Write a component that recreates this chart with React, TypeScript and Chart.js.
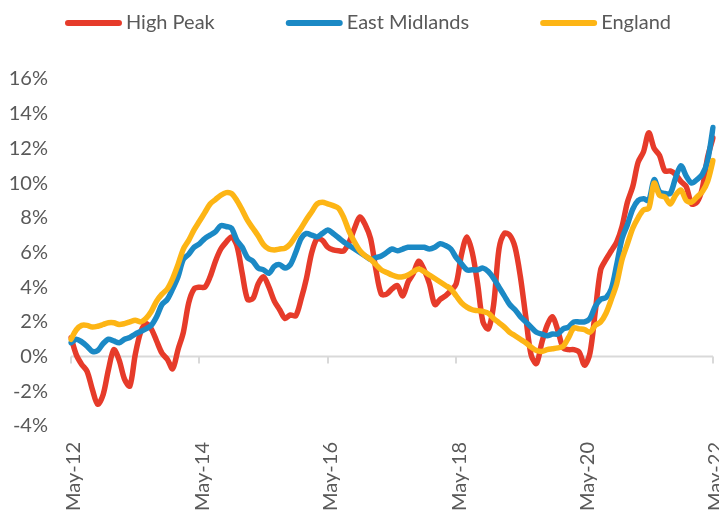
import { useEffect, useRef } from "react";
import { Chart, registerables } from "chart.js";

Chart.register(...registerables);

const MONTH_NAMES = ["Jan", "Feb", "Mar", "Apr", "May", "Jun", "Jul", "Aug", "Sep", "Oct", "Nov", "Dec"];

// Monthly categories May-12 .. May-22
const categories: string[] = [];
for (let k = 0; k <= 120; k++) {
  const m = (4 + k) % 12;
  const yr = 12 + Math.floor((4 + k) / 12);
  categories.push(`${MONTH_NAMES[m]}-${yr}`);
}

const tickLabels = ["May-12", "May-14", "May-16", "May-18", "May-20", "May-22"];

const seriesNames = ["High Peak", "East Midlands", "England"];

const highPeak = [
  1.1, 0.1, -0.45, -0.85, -1.9, -2.75, -2.2, -0.75, 0.4, -0.2, -1.3, -1.7, 0.1, 1.4, 1.9, 1.6, 0.9, 0.2, -0.15, -0.7, 0.4, 1.4, 3.1, 3.9,
  4.0, 4.0, 4.6, 5.5, 6.2, 6.6, 6.9, 6.4, 4.8, 3.3, 3.35, 4.2, 4.6, 4.0, 3.2, 2.7, 2.2, 2.4, 2.35, 3.3, 4.5, 6.0, 6.8, 6.7,
  6.3, 6.15, 6.1, 6.1, 6.6, 7.4, 8.05, 7.6, 6.8, 5.0, 3.6, 3.6, 3.9, 4.1, 3.5, 4.3, 4.8, 5.5, 5.0, 4.2, 3.0, 3.3, 3.5, 3.8,
  4.2, 5.9, 6.9, 6.0, 4.2, 2.0, 1.6, 3.0, 6.2, 7.1, 7.0, 6.3, 4.6, 2.3, 0.1, -0.4, 0.8, 1.8, 2.3, 1.5, 0.5, 0.4, 0.4, 0.25,
  -0.5, 0.2, 2.6, 5.0, 5.6, 6.1, 6.6, 7.5, 8.9, 9.8, 11.2, 11.8, 12.9, 12.0, 11.6, 10.7, 10.7, 10.5, 10.1, 9.8, 8.8, 8.9, 9.7, 11.5,
  12.6,
];

const eastMidlands = [
  0.8, 1.0, 0.85, 0.6, 0.3, 0.35, 0.75, 1.0, 0.9, 0.8, 1.0, 1.1, 1.3, 1.45, 1.6, 1.8, 2.3, 3.0, 3.3, 3.9, 4.6, 5.6, 5.9, 6.3,
  6.5, 6.8, 7.0, 7.2, 7.55, 7.5, 7.4, 6.7, 6.3, 5.7, 5.5, 5.1, 5.0, 4.8, 5.2, 5.3, 5.1, 5.3, 6.0, 6.8, 7.1, 7.0, 6.9, 7.1,
  7.3, 7.1, 6.85, 6.6, 6.4, 6.2, 6.0, 5.8, 5.6, 5.7, 5.8, 6.0, 6.2, 6.1, 6.2, 6.3, 6.3, 6.3, 6.3, 6.2, 6.3, 6.5, 6.4, 6.2,
  5.7, 5.35, 5.0, 5.0, 5.0, 5.1, 4.9, 4.5, 4.0, 3.5, 3.0, 2.7, 2.3, 2.0, 1.7, 1.4, 1.3, 1.2, 1.3, 1.3, 1.6, 1.7, 2.0, 2.0,
  2.0, 2.2, 2.9, 3.3, 3.4, 3.9, 5.3, 6.8, 7.6, 8.5, 9.0, 9.1, 9.0, 10.2, 9.5, 9.4, 9.4, 10.3, 11.0, 10.4, 10.0, 10.2, 10.5, 11.3,
  13.2,
];

const england = [
  1.0, 1.55, 1.8, 1.8, 1.7, 1.75, 1.85, 1.95, 1.95, 1.85, 1.9, 2.0, 2.1, 2.0, 2.2, 2.6, 3.2, 3.6, 3.9, 4.5, 5.3, 6.2, 6.7, 7.3,
  7.8, 8.3, 8.8, 9.05, 9.3, 9.45, 9.4, 9.0, 8.45, 7.85, 7.4, 6.95, 6.45, 6.2, 6.15, 6.2, 6.25, 6.5, 6.95, 7.4, 7.9, 8.35, 8.8, 8.9,
  8.8, 8.7, 8.55, 8.0, 7.2, 6.6, 6.1, 5.8, 5.6, 5.3, 5.0, 4.85, 4.7, 4.6, 4.6, 4.7, 4.9, 5.05, 4.9, 4.7, 4.5, 4.3, 4.1, 3.9,
  3.5, 3.1, 2.85, 2.7, 2.65, 2.6, 2.5, 2.2, 1.95, 1.7, 1.4, 1.2, 1.0, 0.8, 0.55, 0.35, 0.3, 0.4, 0.45, 0.5, 0.6, 1.1, 1.65, 1.6,
  1.55, 1.4, 1.8, 2.0, 2.5, 3.3, 4.2, 5.6, 6.5, 7.4, 8.0, 8.45, 8.55, 10.0, 9.3, 9.2, 8.8, 9.3, 9.6, 9.0, 8.9, 9.2, 9.5, 10.1,
  11.3,
];

const seriesColors = ["#E63B2A", "#1B89C5", "#FDB515"];
const TEXT_COLOR = "#595959";
const AXIS_COLOR = "#D9D9D9";
const FONT_FAMILY = "Lato, 'Open Sans', sans-serif";

const legendPlugin = {
  id: "customLegend",
  afterDraw(chart: any) {
    const ctx = chart.ctx as CanvasRenderingContext2D;
    ctx.save();
    ctx.font = `20px ${FONT_FAMILY}`;
    const lineLen = 57;
    const gapText = 4;
    const gapItem = 71;
    const widths = seriesNames.map((n) => ctx.measureText(n).width);
    const total = widths.reduce((a, b) => a + b, 0) + seriesNames.length * (lineLen + gapText) + (seriesNames.length - 1) * gapItem;
    let x = 368 - total / 2;
    const y = 23;
    seriesNames.forEach((name, i) => {
      ctx.strokeStyle = seriesColors[i];
      ctx.lineWidth = 6;
      ctx.lineCap = "round";
      ctx.beginPath();
      ctx.moveTo(x + 3, y);
      ctx.lineTo(x + lineLen - 3, y);
      ctx.stroke();
      ctx.fillStyle = TEXT_COLOR;
      ctx.textBaseline = "middle";
      ctx.textAlign = "left";
      ctx.fillText(name, x + lineLen + gapText, y);
      x += lineLen + gapText + widths[i] + gapItem;
    });
    ctx.restore();
  },
};

const zeroLinePlugin = {
  id: "zeroLine",
  beforeDatasetsDraw(chart: any) {
    const ctx = chart.ctx as CanvasRenderingContext2D;
    const { left, right } = chart.chartArea;
    const xs = chart.scales.x;
    const y0 = chart.scales.y.getPixelForValue(0);
    ctx.save();
    ctx.strokeStyle = AXIS_COLOR;
    ctx.lineWidth = 2;
    ctx.beginPath();
    ctx.moveTo(left, y0);
    ctx.lineTo(right, y0);
    tickLabels.forEach((lab) => {
      const idx = categories.indexOf(lab);
      if (idx < 0) return;
      const px = Math.round(xs.getPixelForValue(idx));
      ctx.moveTo(px, y0);
      ctx.lineTo(px, y0 + 7);
    });
    ctx.stroke();
    ctx.restore();
  },
};

export default function App() {
  const canvasRef = useRef<HTMLCanvasElement | null>(null);

  useEffect(() => {
    if (!canvasRef.current) return;
    const data = [highPeak, eastMidlands, england];
    const chart = new Chart(canvasRef.current, {
      type: "line",
      data: {
        labels: categories,
        datasets: seriesNames.map((name, i) => ({
          label: name,
          data: data[i],
          borderColor: seriesColors[i],
          backgroundColor: seriesColors[i],
          borderWidth: 5.5,
          pointRadius: 0,
          pointHoverRadius: 0,
          tension: 0.3,
          borderJoinStyle: "round" as const,
          borderCapStyle: "round" as const,
          fill: false,
          order: seriesNames.length - i,
        })),
      },
      options: {
        animation: false,
        responsive: true,
        maintainAspectRatio: false,
        devicePixelRatio: 1,
        layout: { padding: { top: 79, right: 6, left: 0, bottom: 0 } },
        plugins: {
          legend: { display: false },
          tooltip: { enabled: false },
        },
        scales: {
          x: {
            type: "category",
            offset: false,
            grid: { display: false, drawTicks: false },
            border: { display: false },
            ticks: {
              autoSkip: false,
              maxRotation: 90,
              minRotation: 90,
              padding: 16,
              labelOffset: 3,
              color: TEXT_COLOR,
              font: { family: FONT_FAMILY, size: 20 },
              callback: (_v: any, index: number) => (tickLabels.includes(categories[index]) ? categories[index] : null),
            },
            afterFit(scale: any) {
              scale.height = 87;
              scale.paddingLeft = 0;
              scale.paddingRight = 0;
            },
          },
          y: {
            min: -4,
            max: 16,
            grid: { display: false, drawTicks: false },
            border: { display: false },
            ticks: {
              stepSize: 2,
              padding: 23,
              color: TEXT_COLOR,
              font: { family: FONT_FAMILY, size: 20 },
              callback: (v: any) => `${v}%`,
            },
            afterFit(scale: any) {
              scale.width = 71;
            },
          },
        },
      },
      plugins: [zeroLinePlugin, legendPlugin],
    });
    return () => chart.destroy();
  }, []);

  return (
    <div style={{ position: "fixed", left: 0, top: 0, width: 719, height: 513, background: "#fff" }}>
      <canvas ref={canvasRef} />
    </div>
  );
}
